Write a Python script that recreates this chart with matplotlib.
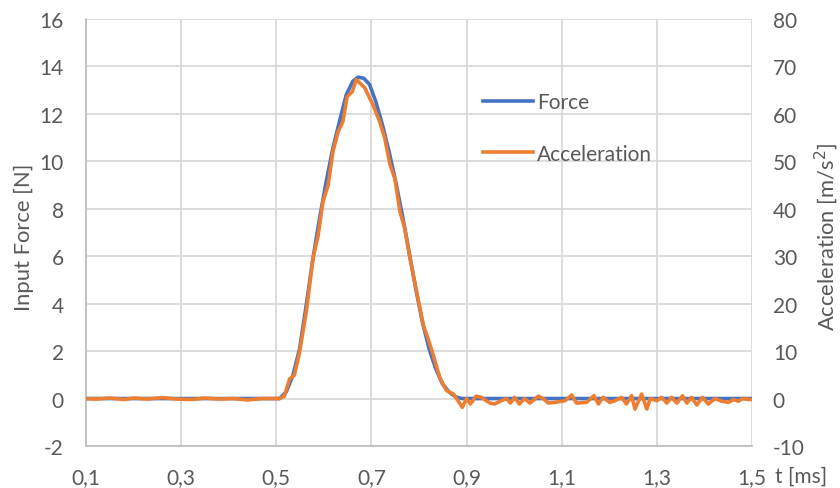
import matplotlib
matplotlib.use("Agg")
import matplotlib.pyplot as plt
from matplotlib.ticker import FixedLocator

plt.rcParams['font.family'] = ['Lato', 'DejaVu Sans']

# ---- data ----
force_t = [0.1, 0.5, 0.507, 0.521, 0.535, 0.549, 0.563, 0.577, 0.591, 0.605, 0.619,
           0.633, 0.647, 0.661, 0.672, 0.684, 0.696, 0.709, 0.723, 0.737, 0.751,
           0.765, 0.779, 0.793, 0.807, 0.821, 0.835, 0.849, 0.863, 0.877, 0.89, 1.5]
force_v = [0, 0, 0, 0.28, 0.98, 2.1, 3.94, 5.9, 7.6, 9.15, 10.56,
           11.69, 12.8, 13.38, 13.55, 13.5, 13.24, 12.53, 11.55, 10.42, 9.15,
           7.74, 6.2, 4.65, 3.24, 2.11, 1.27, 0.63, 0.28, 0.07, 0, 0]

accel_t = [0.1, 0.12, 0.15, 0.18, 0.2, 0.23, 0.26, 0.29, 0.32, 0.35, 0.38, 0.41,
           0.44, 0.47, 0.5, 0.507, 0.517, 0.528, 0.538, 0.549, 0.563, 0.577, 0.588,
           0.598, 0.609, 0.619, 0.630, 0.640, 0.649, 0.660, 0.668, 0.686, 0.703,
           0.717, 0.728, 0.739, 0.749, 0.760, 0.770, 0.781, 0.795, 0.809, 0.819,
           0.830, 0.844, 0.858, 0.872, 0.882, 0.891, 0.900, 0.908, 0.920, 0.931,
           0.949, 0.959, 0.973, 0.984, 0.992, 1.001, 1.011, 1.022, 1.033, 1.051,
           1.061, 1.072, 1.086, 1.107, 1.121, 1.131, 1.152, 1.168, 1.177, 1.187,
           1.201, 1.212, 1.226, 1.236, 1.247, 1.254, 1.268, 1.279, 1.286, 1.300,
           1.310, 1.321, 1.331, 1.342, 1.354, 1.363, 1.373, 1.384, 1.396, 1.408,
           1.422, 1.436, 1.450, 1.461, 1.471, 1.482, 1.492, 1.5]
accel_v = [0.0, -0.1, 0.1, -0.2, 0.1, -0.1, 0.2, -0.1, -0.2, 0.1, -0.1, 0.0,
           -0.3, 0.0, 0.0, 0.0, 0.5, 4.15, 4.9, 9.8, 18.25, 29.5, 34.4,
           41.45, 45.0, 52.0, 56.25, 58.35, 63.65, 64.7, 67.25, 65.5, 61.95,
           58.45, 54.9, 49.3, 46.45, 39.4, 35.9, 29.55, 22.5, 15.5, 12.65,
           9.15, 4.3, 1.65, 1.0, -0.45, -1.85, 0.0, -1.15, 0.5, 0.25,
           -0.95, -1.15, -0.45, 0.0, -0.95, 0.25, -1.15, 0.0, -0.95, 0.5,
           0.0, -0.95, -0.8, -0.45, 0.75, -0.95, -0.8, 0.6, -1.15, 0.25,
           -0.8, -0.45, 0.25, -1.15, 0.6, -2.2, 0.95, -2.2, 0.0, -0.45,
           0.25, -0.95, 0.25, -0.95, 0.6, -0.95, 0.25, -1.35, 0.25, -1.15,
           0.0, -0.55, -0.8, -0.2, -0.55, 0.05, -0.2, -0.2]

x_ticks = [0.1, 0.3, 0.5, 0.7, 0.9, 1.1, 1.3, 1.5]
x_labels = ["0,1", "0,3", "0,5", "0,7", "0,9", "1,1", "1,3", "1,5"]
left_ticks = [-2, 0, 2, 4, 6, 8, 10, 12, 14, 16]
right_ticks = [-10, 0, 10, 20, 30, 40, 50, 60, 70, 80]

# ---- style ----
TXT = '#595959'
GRID = '#D9D9D9'
BLUE = '#4472C4'
ORANGE = '#ED7D31'
FS = 15

W, H = 840, 489
fig = plt.figure(figsize=(W/100, H/100), dpi=100)
ax = fig.add_axes([86/W, 42/H, (752-86)/W, (447-20)/H])
ax2 = ax.twinx()

ax.set_xlim(0.1, 1.5)
ax.set_ylim(-2, 16)
ax2.set_ylim(-10, 80)

ax.xaxis.set_major_locator(FixedLocator(x_ticks))
ax.set_xticklabels(x_labels)
ax.yaxis.set_major_locator(FixedLocator(left_ticks))
ax.set_yticklabels([str(v) for v in left_ticks])
ax2.yaxis.set_major_locator(FixedLocator(right_ticks))
ax2.set_yticklabels([str(v) for v in right_ticks])

ax.grid(True, color=GRID, lw=1.3)
ax.set_axisbelow(True)
for a in (ax, ax2):
    for s in a.spines.values():
        s.set_visible(False)
for side in ('left', 'bottom'):
    ax.spines[side].set_visible(True)
    ax.spines[side].set_color('#BFBFBF')
    ax.spines[side].set_linewidth(1.3)

ax.tick_params(axis='both', length=0, labelsize=FS, labelcolor=TXT)
ax.tick_params(axis='x', pad=15)
ax.tick_params(axis='y', pad=16)
ax2.tick_params(axis='y', length=0, labelsize=FS, labelcolor=TXT, pad=15)

l1, = ax.plot(force_t, force_v, color=BLUE, lw=2.6, label='Force', solid_joinstyle='round')
l2, = ax2.plot(accel_t, accel_v, color=ORANGE, lw=2.6, label='Acceleration', solid_joinstyle='round')

fig.text(24/W, 1 - 237/H, 'Input Force [N]', fontsize=FS + 0.8, color=TXT,
         rotation=90, ha='center', va='center')
fig.text(826/W, 1 - 237/H, 'Acceleration [m/s$^2$]', fontsize=FS + 0.8, color=TXT,
         rotation=90, ha='center', va='center')

fig.text(775/W, 1 - 483/H, 't [ms]', fontsize=FS, color=TXT, va='baseline', ha='left')

leg = ax.legend(handles=[l1, l2], loc='upper left', bbox_to_anchor=(0.596, 0.828),
                frameon=False, fontsize=FS, handlelength=2.4, handletextpad=0.2,
                labelspacing=1.5, labelcolor=TXT, borderpad=0, borderaxespad=0)

fig.savefig('out.png', dpi=100)
